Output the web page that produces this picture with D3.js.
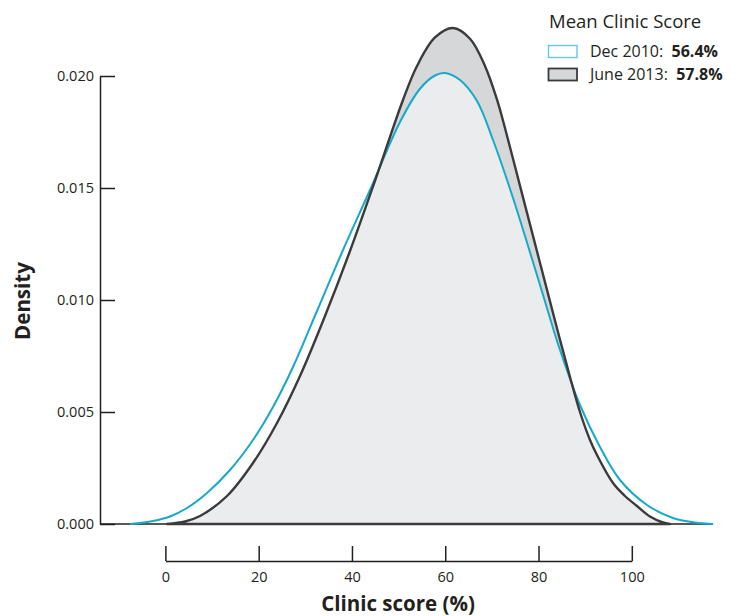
<!DOCTYPE html>
<html>
<head>
<meta charset="utf-8">
<script src="https://cdn.jsdelivr.net/npm/d3@7"></script>
<style>
  html, body { margin: 0; padding: 0; background: #ffffff; }
  svg { display: block; font-family: "Open Sans", "Noto Sans", sans-serif; }
</style>
</head>
<body>
<svg id="chart" width="747" height="616"></svg>
<script>
// Kernel density estimates of clinic scores, two survey rounds
const decScore = [-7.59, -2.66, 0.99, 4.63, 8.92, 13.85, 18.78, 23.07, 27.36, 32.50, 38.08, 43.87, 50.30, 54.59, 57.80, 59.95, 63.17, 66.81, 70.24, 74.53, 80.32, 84.61, 88.89, 93.18, 97.47, 103.26, 108.83, 113.55, 117.41];
const decDensity = [0, 0.000134, 0.000335, 0.000714, 0.001384, 0.002411, 0.00375, 0.005223, 0.007009, 0.009509, 0.012232, 0.014911, 0.017946, 0.019431, 0.020022, 0.020134, 0.019821, 0.018884, 0.017143, 0.014554, 0.01067, 0.007768, 0.005313, 0.003438, 0.001964, 0.000848, 0.000268, 0.000067, 0];

const juneScore = [0.34, 4.20, 7.42, 13.21, 18.78, 23.93, 28.86, 34.22, 39.58, 45.37, 50.94, 53.95, 57.80, 61.66, 65.31, 68.52, 71.10, 72.81, 76.67, 79.67, 82.46, 84.61, 86.75, 88.89, 91.04, 92.54, 95.97, 98.54, 101.11, 103.90, 106.69, 108.19];
const juneDensity = [0, 0.000112, 0.000357, 0.00125, 0.002723, 0.004509, 0.006607, 0.009286, 0.012188, 0.01558, 0.018929, 0.020446, 0.021719, 0.022143, 0.021665, 0.020451, 0.018946, 0.017679, 0.01458, 0.012174, 0.009938, 0.008219, 0.006563, 0.005, 0.00375, 0.00308, 0.00183, 0.00125, 0.000804, 0.000335, 0.000067, 0];

const xTicks = [0, 20, 40, 60, 80, 100];
const yTicks = [0, 0.005, 0.010, 0.015, 0.020];

const legendTitle = "Mean Clinic Score";
const seriesNames = ["Dec 2010:", "June 2013:"];
const seriesMeans = ["56.4%", "57.8%"];

const ink = "#231f20";
const cyan = "#16a9c9";
const dark = "#3b3b3d";

const svg = d3.select("#chart");

const x = d3.scaleLinear().domain([0, 100]).range([165.4, 631.8]);
const y = d3.scaleLinear().domain([0, 0.02]).range([524, 76]);

const dec = decScore.map((s, i) => ({ s, d: decDensity[i] }));
const june = juneScore.map((s, i) => ({ s, d: juneDensity[i] }));

const curve = d3.curveCatmullRom.alpha(0.5);

const area = d3.area()
  .x(p => x(p.s))
  .y0(y(0))
  .y1(p => y(p.d))
  .curve(curve);

const line = d3.line()
  .x(p => x(p.s))
  .y(p => y(p.d))
  .curve(curve);

// fills
svg.append("path").attr("d", area(june)).attr("fill", "#d6d7d9");
svg.append("path").attr("d", area(dec)).attr("fill", "#ffffff").attr("fill-opacity", 0.52);

// zero baseline
svg.append("line")
  .attr("x1", 100).attr("x2", x(decScore[decScore.length - 1]))
  .attr("y1", y(0)).attr("y2", y(0))
  .attr("stroke", ink).attr("stroke-width", 1.4);

// outlines
svg.append("path").attr("d", line(dec))
  .attr("fill", "none").attr("stroke", cyan).attr("stroke-width", 2);
svg.append("path").attr("d", area(june))
  .attr("fill", "none").attr("stroke", dark).attr("stroke-width", 2.4)
  .attr("stroke-linejoin", "round");

// y axis
const yAxis = svg.append("g")
  .attr("transform", "translate(100,0)")
  .call(d3.axisLeft(y).tickValues(yTicks).tickFormat(d3.format(".3f"))
    .tickSizeInner(-15).tickSizeOuter(0).tickPadding(6));
yAxis.selectAll("path, line").attr("stroke", ink).attr("stroke-width", 1.5);
yAxis.selectAll("text").attr("fill", ink).style("font-size", "14.5px")
  .style("font-family", "'Open Sans', sans-serif");

// x axis, set below the plot
const xAxis = svg.append("g")
  .attr("transform", "translate(0,561)")
  .call(d3.axisBottom(x).tickValues(xTicks).tickFormat(d3.format("d"))
    .tickSizeInner(-15).tickSizeOuter(0).tickPadding(11));
xAxis.selectAll("path, line").attr("stroke", ink).attr("stroke-width", 1.5);
xAxis.selectAll("text").attr("fill", ink).style("font-size", "14.5px")
  .style("font-family", "'Open Sans', sans-serif");

// axis titles
svg.append("text")
  .attr("x", 398).attr("y", 611)
  .attr("text-anchor", "middle")
  .attr("fill", ink)
  .style("font-size", "20.5px").style("font-weight", "bold")
  .text("Clinic score (%)");

svg.append("text")
  .attr("transform", "translate(30,301) rotate(-90)")
  .attr("text-anchor", "middle")
  .attr("fill", ink)
  .style("font-size", "20.5px").style("font-weight", "bold")
  .text("Density");

// legend
const legend = svg.append("g");
legend.append("text")
  .attr("x", 549).attr("y", 28)
  .attr("fill", ink)
  .style("font-size", "18.5px")
  .text(legendTitle);

const swatches = [
  { fill: "#ffffff", stroke: "#62c6e8", sw: 1.4 },
  { fill: "#d6d7d9", stroke: dark, sw: 1.8 }
];
seriesNames.forEach((name, i) => {
  const yy = 45.5 + i * 23;
  legend.append("rect")
    .attr("x", 548.5).attr("y", yy)
    .attr("width", 28.5).attr("height", 12)
    .attr("fill", swatches[i].fill)
    .attr("stroke", swatches[i].stroke)
    .attr("stroke-width", swatches[i].sw);
  const t = legend.append("text")
    .attr("x", 590).attr("y", yy + 11)
    .attr("fill", ink)
    .style("font-size", "16px");
  t.append("tspan").text(name + "\u00a0\u00a0");
  t.append("tspan").style("font-weight", "bold").text(seriesMeans[i]);
});
</script>
</body>
</html>
